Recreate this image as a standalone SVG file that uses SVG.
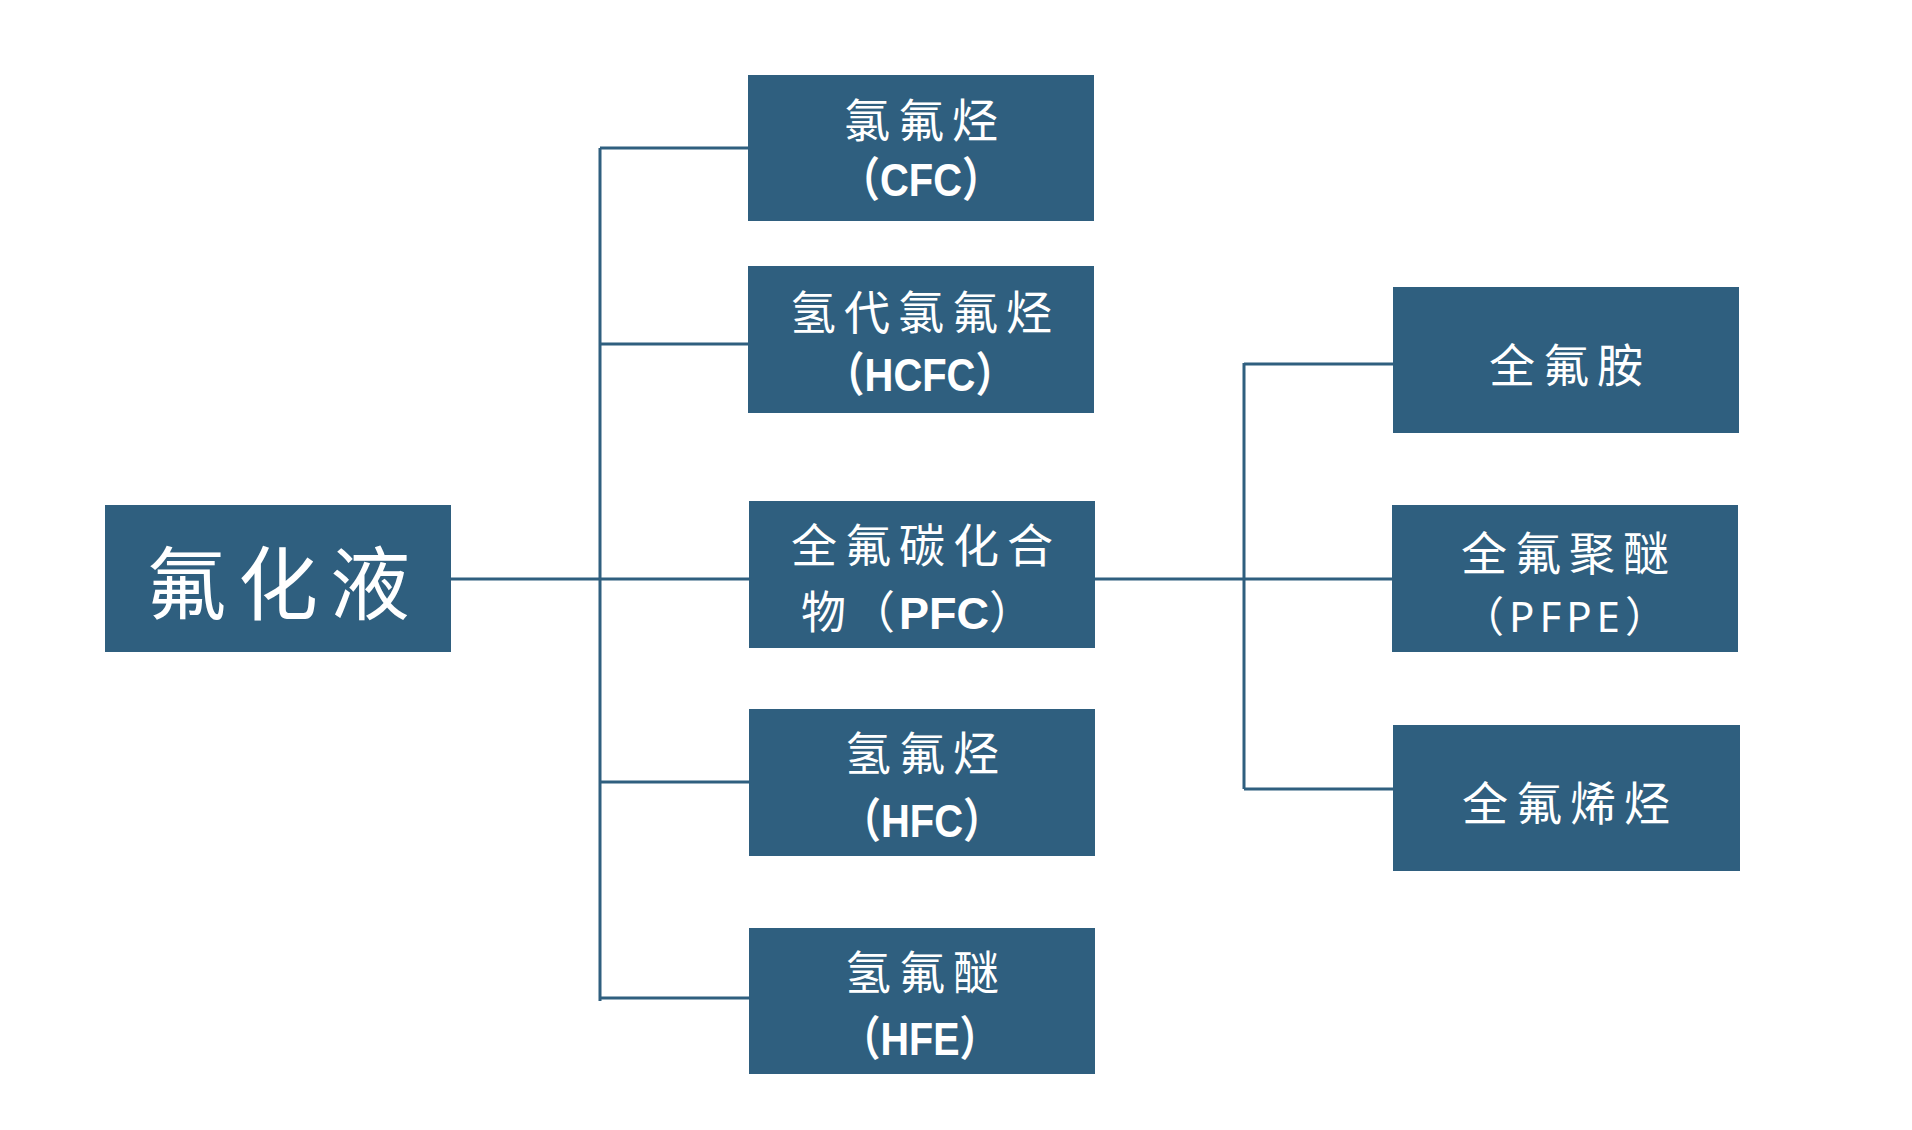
<svg xmlns="http://www.w3.org/2000/svg" width="1912" height="1130" viewBox="0 0 1912 1130">
<style>
.box{fill:#2F5F7F}
.ln{stroke:#2F5F7F;stroke-width:3;fill:none}
text{fill:#FFFFFF;font-family:"Noto Sans CJK SC","Noto Sans CJK JP",sans-serif;dominant-baseline:central;text-anchor:middle}
.root{font-size:80px;letter-spacing:12px}
.t1{font-size:46px;letter-spacing:8px}
.lat{font-family:"Liberation Sans","Noto Sans CJK SC",sans-serif;font-weight:bold;font-size:47px}
.mix{font-family:"Liberation Sans","Noto Sans CJK SC",sans-serif;font-size:45px}
.lat2{font-family:"Noto Sans","Noto Sans CJK SC",sans-serif;font-size:42px;letter-spacing:5px}
</style>
<rect width="1912" height="1130" fill="#FFFFFF"/>
<g id="connectors">
<line class="ln" x1="451" y1="579" x2="749" y2="579"/>
<line class="ln" x1="600" y1="148" x2="600" y2="1001"/>
<line class="ln" x1="600" y1="148" x2="748" y2="148"/>
<line class="ln" x1="600" y1="344" x2="748" y2="344"/>
<line class="ln" x1="600" y1="782" x2="749" y2="782"/>
<line class="ln" x1="600" y1="998" x2="749" y2="998"/>
<line class="ln" x1="1095" y1="579" x2="1392" y2="579"/>
<line class="ln" x1="1244" y1="363" x2="1244" y2="789"/>
<line class="ln" x1="1244" y1="364" x2="1393" y2="364"/>
<line class="ln" x1="1244" y1="789" x2="1393" y2="789"/>
</g>
<g id="n-root">
<rect class="box" x="105" y="505" width="346" height="147"/>
<text class="root" x="284" y="578">氟化液</text>
</g>
<g id="n-cfc">
<rect class="box" x="748" y="75" width="346" height="146"/>
<text class="t1" x="925" y="117">氯氟烃</text>
<text class="lat" transform="translate(921 180) scale(0.85 1)">（CFC）</text>
</g>
<g id="n-hcfc">
<rect class="box" x="748" y="266" width="346" height="147"/>
<text class="t1" x="925" y="309">氢代氯氟烃</text>
<text class="lat" transform="translate(920 375) scale(0.85 1)">（HCFC）</text>
</g>
<g id="n-pfc">
<rect class="box" x="749" y="501" width="346" height="147"/>
<text class="t1" x="926" y="542">全氟碳化合</text>
<text class="mix" x="801" y="613" style="text-anchor:start;letter-spacing:4px">物（<tspan font-weight="bold" style="letter-spacing:0">PFC</tspan>）</text>
</g>
<g id="n-hfc">
<rect class="box" x="749" y="709" width="346" height="147"/>
<text class="t1" x="926" y="750">氢氟烃</text>
<text class="lat" transform="translate(922 821) scale(0.85 1)">（HFC）</text>
</g>
<g id="n-hfe">
<rect class="box" x="749" y="928" width="346" height="146"/>
<text class="t1" x="926" y="969">氢氟醚</text>
<text class="lat" transform="translate(920 1039) scale(0.84 1)">（HFE）</text>
</g>
<g id="n-pfa">
<rect class="box" x="1393" y="287" width="346" height="146"/>
<text class="t1" x="1570" y="362">全氟胺</text>
</g>
<g id="n-pfpe">
<rect class="box" x="1392" y="505" width="346" height="147"/>
<text class="t1" x="1569" y="550">全氟聚醚</text>
<text class="lat2" x="1567" y="615">（PFPE）</text>
</g>
<g id="n-pfo">
<rect class="box" x="1393" y="725" width="347" height="146"/>
<text class="t1" x="1570" y="800">全氟烯烃</text>
</g>
</svg>
